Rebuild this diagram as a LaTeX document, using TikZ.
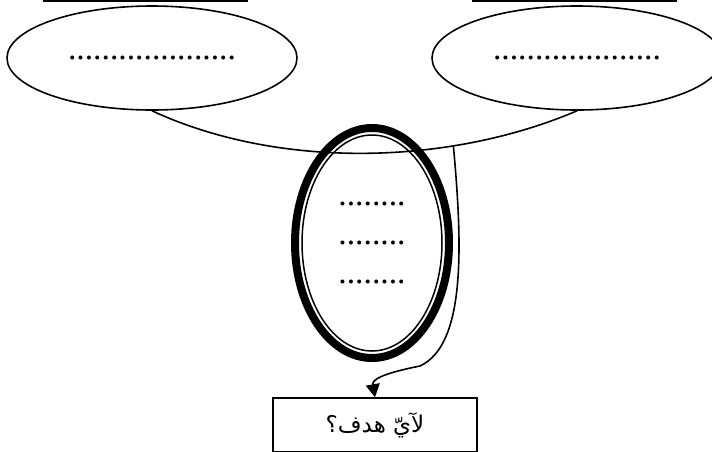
\documentclass[tikz,border=0pt]{standalone}
\usepackage{fontspec}
\setmainfont{Liberation Serif}
\newfontfamily\arabicfont[Script=Arabic]{DejaVu Sans}
\TeXXeTstate=1
\usetikzlibrary{shapes.geometric,arrows.meta}
\begin{document}
\begin{tikzpicture}[x=1pt,y=-1pt,
  bubble/.style={draw, ellipse, line width=1.6pt, minimum width=290pt, minimum height=104pt, font=\fontsize{33.6}{39}\selectfont},
  goalring/.style={draw, ellipse, line width=1.5pt, minimum width=140pt, minimum height=216pt, align=center, font=\fontsize{33.6}{39}\selectfont},
  whybox/.style={draw, line width=1.6pt, minimum width=204pt, minimum height=54pt, font=\arabicfont\fontsize{23}{27}\selectfont}]
\useasboundingbox (0,0) rectangle (712,451);

\draw[line width=2.2pt] (43,1) -- (248,1);
\draw[line width=2.2pt] (472,1) -- (677,1);

\node[bubble] (left) at (152,58) {....................};
\node[bubble] (right) at (577,58) {....................};
\draw[line width=1.6pt] (left.south) .. controls (280,170) and (450,165) .. coordinate[pos=0.7] (tap) (right.south);

\node[goalring] (goals) at (372,243) {........\\........\\........};
\draw[line width=8pt] (goals.center) ellipse (77 and 115);

\node[whybox] (why) at (375,425) {\beginR لآيّ هدف؟\endR};

\draw[line width=1.6pt, -{Triangle[length=13pt,width=14pt]}] (tap) .. controls (463,250) and (465,345) .. (420,366) .. controls (380,374) and (372,380) .. (why.north);
\end{tikzpicture}
\end{document}
